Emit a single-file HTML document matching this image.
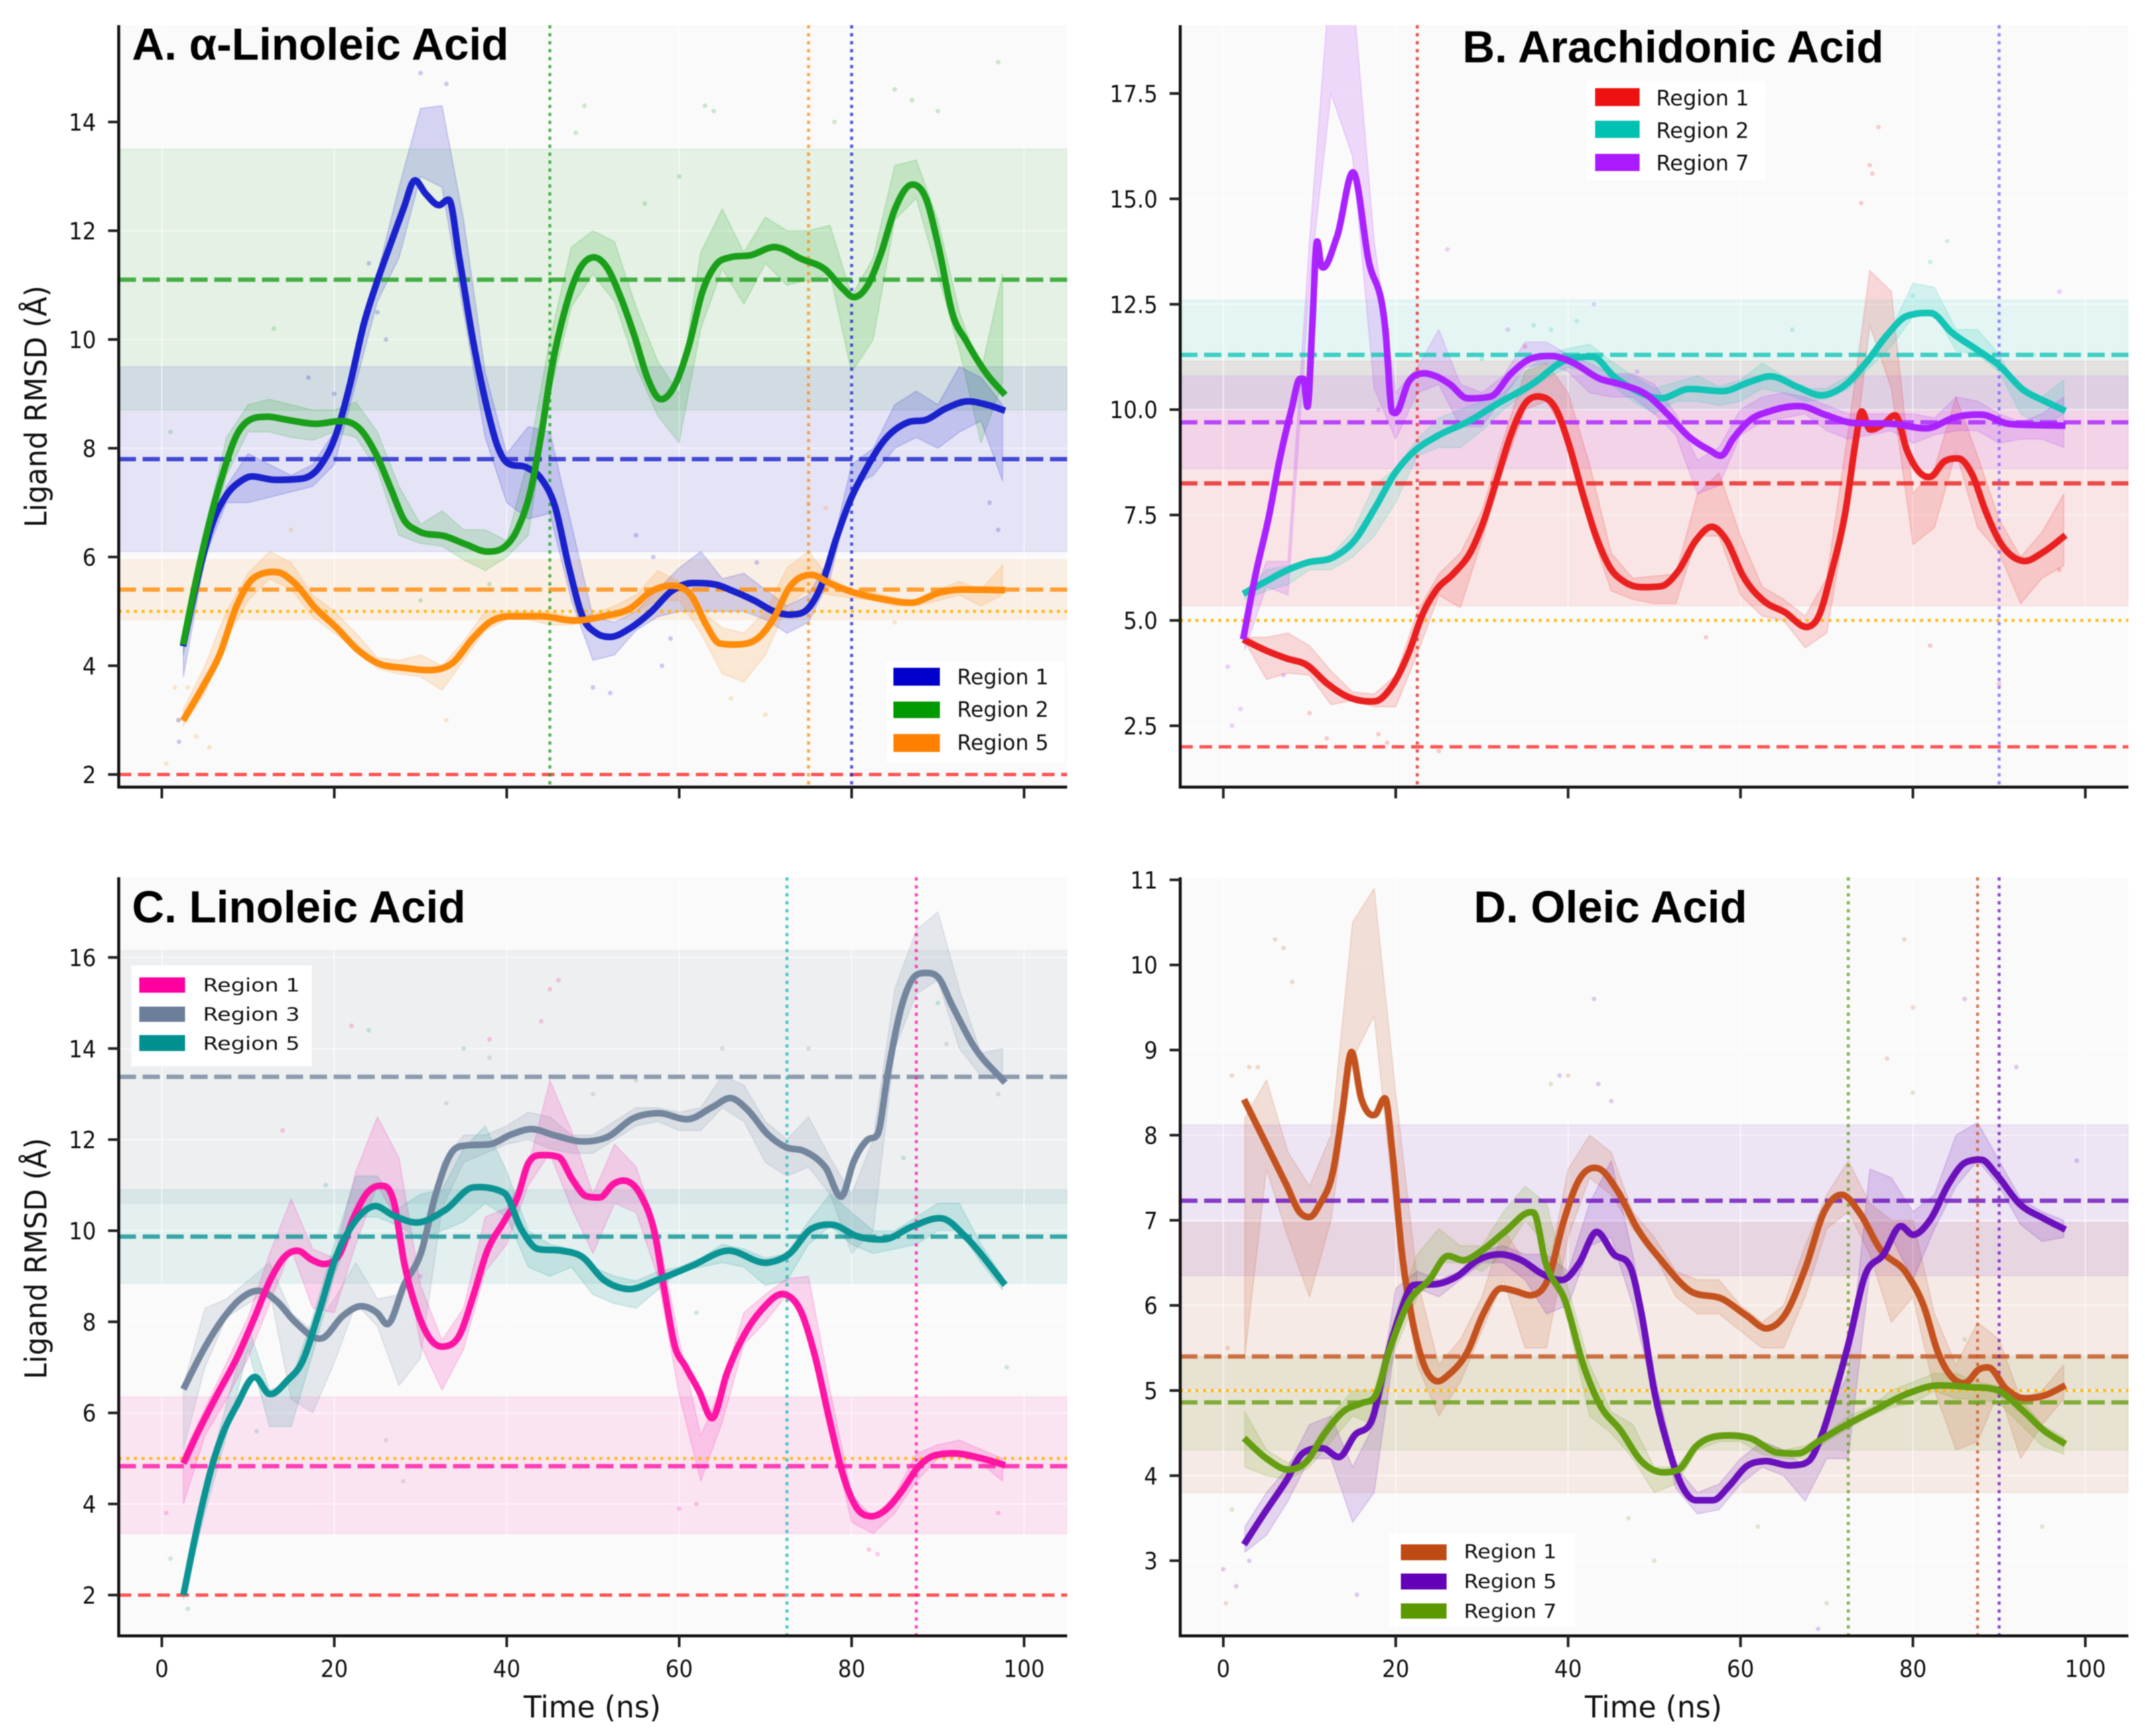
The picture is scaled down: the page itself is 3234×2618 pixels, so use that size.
<!DOCTYPE html>
<html lang="en">
<head>
<meta charset="utf-8">
<title>Ligand RMSD by region</title>
<style>
html,body{margin:0;padding:0;background:#fff;}
svg{display:block;filter:blur(0.8px);}
text{fill:#111;font-family:"DejaVu Sans","Liberation Sans",sans-serif;}
.title{font-family:"Liberation Sans",sans-serif;font-weight:700;font-size:68px;fill:#000;}
</style>
</head>
<body>
<svg id="figure" xmlns="http://www.w3.org/2000/svg" width="3234" height="2618" viewBox="0 0 3234 2618">
  <defs id="clips"></defs>
  <g id="marks-a"></g>
  <g id="marks-b"></g>
  <g id="marks-c"></g>
  <g id="marks-d"></g>

  <text class="title" x="199" y="90" textLength="568" lengthAdjust="spacingAndGlyphs">A. α-Linoleic Acid</text>
  <text class="title" x="2205" y="94" textLength="635" lengthAdjust="spacingAndGlyphs">B. Arachidonic Acid</text>
  <text class="title" x="199" y="1391" textLength="503" lengthAdjust="spacingAndGlyphs">C. Linoleic Acid</text>
  <text class="title" x="2222" y="1391" textLength="412" lengthAdjust="spacingAndGlyphs">D. Oleic Acid</text>

  <text font-size="45" text-anchor="middle" transform="translate(70,613) rotate(-90)" textLength="365" lengthAdjust="spacingAndGlyphs">Ligand RMSD (Å)</text>
  <text font-size="45" text-anchor="middle" transform="translate(70,1898) rotate(-90)" textLength="364" lengthAdjust="spacingAndGlyphs">Ligand RMSD (Å)</text>
  <text font-size="45" text-anchor="middle" x="893" y="2590" textLength="207" lengthAdjust="spacingAndGlyphs">Time (ns)</text>
  <text font-size="45" text-anchor="middle" x="2493" y="2590" textLength="207" lengthAdjust="spacingAndGlyphs">Time (ns)</text>

  <g>
    <rect x="1337" y="997" width="268" height="153" fill="#fff"/>
    <rect x="1347" y="1007" width="70" height="27" fill="#0000cc"/>
    <text x="1443" y="1032" font-size="32" textLength="138" lengthAdjust="spacingAndGlyphs">Region 1</text>
    <rect x="1347" y="1058" width="70" height="25" fill="#009900"/>
    <text x="1443" y="1081" font-size="32" textLength="138" lengthAdjust="spacingAndGlyphs">Region 2</text>
    <rect x="1347" y="1107" width="70" height="27" fill="#ff8000"/>
    <text x="1443" y="1131" font-size="32" textLength="138" lengthAdjust="spacingAndGlyphs">Region 5</text>
  </g>
  <g>
    <rect x="2392" y="122" width="270" height="149" fill="#fff"/>
    <rect x="2405" y="133" width="67" height="27" fill="#ee1111"/>
    <text x="2497" y="159" font-size="32" textLength="140" lengthAdjust="spacingAndGlyphs">Region 1</text>
    <rect x="2405" y="182" width="67" height="26" fill="#00c2b2"/>
    <text x="2497" y="208" font-size="32" textLength="140" lengthAdjust="spacingAndGlyphs">Region 2</text>
    <rect x="2405" y="232" width="67" height="26" fill="#aa1aff"/>
    <text x="2497" y="257" font-size="32" textLength="140" lengthAdjust="spacingAndGlyphs">Region 7</text>
  </g>
  <g>
    <rect x="198" y="1456" width="272" height="152" fill="#fff"/>
    <rect x="210" y="1474" width="69" height="23" fill="#ff00a0"/>
    <text x="306" y="1495" font-size="28" textLength="146" lengthAdjust="spacingAndGlyphs">Region 1</text>
    <rect x="210" y="1518" width="69" height="23" fill="#6c7f9a"/>
    <text x="306" y="1539" font-size="28" textLength="146" lengthAdjust="spacingAndGlyphs">Region 3</text>
    <rect x="210" y="1561" width="69" height="24" fill="#009090"/>
    <text x="306" y="1583" font-size="28" textLength="146" lengthAdjust="spacingAndGlyphs">Region 5</text>
  </g>
  <g>
    <rect x="2095" y="2313" width="280" height="140" fill="#fff"/>
    <rect x="2112" y="2329" width="69" height="24" fill="#c04a14"/>
    <text x="2207" y="2350" font-size="29" textLength="140" lengthAdjust="spacingAndGlyphs">Region 1</text>
    <rect x="2112" y="2373" width="69" height="24" fill="#6400b8"/>
    <text x="2207" y="2395" font-size="29" textLength="140" lengthAdjust="spacingAndGlyphs">Region 5</text>
    <rect x="2112" y="2418" width="69" height="23" fill="#5c9900"/>
    <text x="2207" y="2440" font-size="29" textLength="140" lengthAdjust="spacingAndGlyphs">Region 7</text>
  </g>
</svg>

<script>
// Shared axis data
const xTicks = [0, 20, 40, 60, 80, 100];
const bandTimes = [2.5,5,7.5,10,12.5,15,17.5,20,22.5,25,27.5,30,32.5,35,37.5,40,42.5,45,47.5,50,52.5,55,57.5,60,62.5,65,67.5,70,72.5,75,77.5,80,82.5,85,87.5,90,92.5,95,97.5];

const yTicksA = [2,4,6,8,10,12,14];
const yTicksB = [2.5,5,7.5,10,12.5,15,17.5];
const yTickLabelsB = ['2.5','5.0','7.5','10.0','12.5','15.0','17.5'];
const yTicksC = [2,4,6,8,10,12,14,16];
const yTicksD = [3,4,5,6,7,8,9,10,11];

// Panel A: alpha-linoleic acid
const aR1Time = [2.46,4.3,5.9,7.5,9.1,10.3,13,16.2,18.2,20.2,21.8,23.4,25,26.6,28.1,29.25,30.6,32.1,33.3,34.5,36.1,37.7,38.9,40,42.4,44,45.6,47.2,48.8,50.4,52,54.4,56.8,59.1,61.5,64,66.3,68.7,71,73,75,76.6,78.2,79.8,81.4,83.8,86.6,88.6,90.9,93.3,95.7,97.8];
const aR1Rmsd = [4.36,5.72,6.63,7.14,7.39,7.48,7.42,7.44,7.64,8.25,9.16,10.27,11.08,11.79,12.44,12.92,12.68,12.47,12.57,11.5,9.97,8.75,8.05,7.74,7.64,7.44,6.93,5.82,4.9,4.6,4.53,4.7,5.0,5.37,5.52,5.5,5.37,5.2,5.0,4.94,5.06,5.52,6.33,7.03,7.54,8.15,8.48,8.52,8.73,8.86,8.8,8.69];
const aR1Lo = [3.8,6.0,7.0,7.0,7.1,7.2,7.3,7.7,9.2,10.7,11.5,13.0,12.8,10.5,8.2,7.0,6.7,6.8,5.2,4.1,4.2,4.65,4.9,5.0,5.0,5.0,5.0,4.85,4.6,4.8,5.6,7.3,7.5,8.0,8.2,8.0,8.3,8.5,7.4];
const aR1Hi = [4.6,6.3,7.3,7.9,7.7,7.5,7.7,8.3,9.6,11.2,12.8,14.25,14.3,12.2,9.4,7.9,8.4,8.3,6.6,4.9,4.8,5.0,5.4,5.8,6.1,5.6,5.7,5.4,5.1,5.3,6.0,7.7,8.0,8.8,9.05,8.8,9.5,9.3,8.8];
const aR1DotT = [30,33,26,25,24,1.9,2,20,17,50,52,58,59,55,57,96,97,69];
const aR1DotV = [14.9,14.7,10,10.5,11.4,3,2.6,9,9.3,3.6,3.5,4,4.5,6.4,6,7,6.5,5.9];

const aR2Time = [2.46,3.9,5.5,7.1,8.7,10.3,12.2,14.6,17.8,21,23,25,26.6,28.1,29.7,32.9,35.3,37.7,39.7,41.3,42.8,44,45.2,46.8,48.4,50,51.6,53.2,54.8,56.4,57.7,59.5,61.1,62.7,64.3,65.9,68.3,71.1,74.2,77,79,80.2,81.8,83.4,85,87,88.6,90.1,91.7,93.3,95.7,97.8];
const aR2Rmsd = [4.39,5.52,6.63,7.54,8.25,8.53,8.58,8.52,8.45,8.5,8.35,7.84,7.24,6.68,6.48,6.38,6.23,6.1,6.18,6.53,7.24,8.25,9.46,10.57,11.28,11.51,11.33,10.78,10.07,9.26,8.91,9.16,9.87,10.88,11.38,11.51,11.55,11.7,11.48,11.28,10.93,10.78,10.98,11.58,12.39,12.85,12.6,11.69,10.47,9.97,9.36,8.98];
const aR2Lo = [4.2,5.9,7.5,8.3,8.3,8.2,8.15,8.3,8.2,7.6,6.4,6.25,6.2,5.95,5.75,6.0,6.4,9,10.6,11.2,10.7,9.5,8.6,8.1,10.2,11.3,10.65,11.4,11.0,11.1,11.2,9.4,10.0,12.2,12.6,11.2,9.8,8.1,9.2];
const aR2Hi = [4.6,6.5,8.2,8.8,8.9,8.8,8.7,8.7,8.85,8.3,7.3,6.6,6.85,6.5,6.5,6.3,7.8,10,11.7,12.0,11.8,10.6,9.6,9.0,11.6,12.4,11.6,12.25,12.0,12.0,12.1,10.8,11.5,13.2,13.3,12.2,10.5,9.4,11.2];
const aR2DotT = [48,49,63,64,87,85,90,97,78,13,1,60,38,56,30];
const aR2DotV = [13.8,14.3,14.3,14.2,14.4,14.6,14.2,15.1,14,10.2,8.3,13,5.5,12.5,5.2];

const aR5Time = [2.46,4.7,6.7,8.7,10.7,13.4,15.4,17.8,20.2,22.6,25,28.1,31.3,33.7,36.1,38.1,40.5,44,48,51.2,54.4,56.8,59.5,61.5,63.1,64.7,66.7,69.5,71.1,72.7,75.4,77.4,79.8,83.8,87,90.1,92.5,97.8];
const aR5Rmsd = [2.99,3.6,4.2,5.11,5.62,5.72,5.52,5.06,4.71,4.31,4.05,3.96,3.92,4.05,4.51,4.81,4.91,4.91,4.83,4.91,5.06,5.37,5.47,5.27,4.76,4.41,4.39,4.56,4.91,5.42,5.67,5.52,5.37,5.22,5.16,5.34,5.4,5.39];
const aR5Lo = [2.9,3.5,4.5,5.2,5.6,5.4,4.9,4.6,4.3,3.95,3.85,3.8,3.55,4.1,4.65,4.85,4.85,4.75,4.75,4.85,4.85,5.0,5.2,5.2,4.6,3.85,3.7,4.2,5.1,5.4,5.3,5.25,5.2,5.1,5.1,5.2,5.3,5.1,5.3];
const aR5Hi = [3.2,4.0,5.0,5.7,6.1,5.9,5.3,5.0,4.6,4.15,4.1,4.2,4.0,4.45,5.0,5.0,5.0,5.0,4.9,4.95,5.1,5.3,5.75,5.55,5.0,4.7,4.6,5.0,5.8,6.1,5.6,5.4,5.35,5.25,5.2,5.4,5.55,5.4,5.85];
const aR5DotT = [0.5,5.5,15,33,66,70,3,75,77,1.5,85,2,4];
const aR5DotV = [2.2,2.5,6.5,3,3.4,3.1,3.6,7,6.9,3.6,4.8,3.0,2.7];

// Panel B: arachidonic acid
const bR1Time = [2.3,4.9,7.3,9.7,12,14.4,17.6,19.6,21.5,23.1,24.7,26.7,28.7,30.2,31.8,33.4,35,36.7,38.6,40.1,41.7,43.3,44.9,46.5,48.5,50.8,52.8,54.8,56.8,58.4,60.3,62.7,65.1,67.9,69,70.6,72.2,73.4,74,75,76.6,78,79.3,82.1,83.7,85.3,86.9,88.4,90,92.8,95.2,97.7];
const bR1Rmsd = [4.55,4.29,4.1,3.94,3.51,3.19,3.08,3.45,4.23,5.14,5.72,6.11,6.63,7.35,8.39,9.43,10.14,10.31,10.01,9.17,8.0,6.96,6.24,5.92,5.79,5.81,6.18,6.89,7.22,6.89,6.05,5.46,5.2,4.85,5.07,6.18,7.61,9.3,9.95,9.53,9.66,9.86,9.04,8.41,8.78,8.84,8.45,7.61,6.89,6.41,6.63,7.02];
const bR1Lo = [4.5,3.6,3.75,3.7,3.0,3.1,2.95,2.95,4.2,5.6,5.3,6.9,8.6,10.0,10.2,9.3,7.2,5.7,5.5,5.4,5.4,7.0,7.0,5.6,5.1,5.0,4.35,4.7,7.7,12.0,10.5,6.8,7.2,9,7.2,6.6,5.4,6.0,6.3];
const bR1Hi = [4.6,4.6,4.7,4.4,3.8,3.3,3.25,3.7,5.2,6.1,6.6,7.6,9.3,10.9,11.1,10.4,8.7,6.6,6.0,6.05,6.1,8.0,8.5,7.0,5.8,5.5,5.1,6.0,9.5,13.3,12.8,8.0,8.6,10.3,8.9,7.4,6.5,7.1,8.0];
const bR1DotT = [76,75,75.3,74,35,25,10,12,18,19,56,82,90,97];
const bR1DotV = [16.7,15.8,15.6,14.9,11.5,1.9,2.8,2.2,2.3,2.1,4.6,4.4,3.5,6.2];

const bR2Time = [2.3,4.9,7.3,9.7,12.8,15.2,17.6,20,22.3,24.7,28.7,31.8,35.8,39.8,42.9,45.3,47.7,50.8,54,58,61.1,63.5,66.7,69.4,71.8,74.6,77,79.3,82.1,84.5,87.3,90,92.8,95.2,97.7];
const bR2Rmsd = [5.63,5.92,6.18,6.37,6.5,6.89,7.67,8.52,9.04,9.36,9.75,10.14,10.6,11.18,11.25,10.79,10.47,10.27,10.49,10.44,10.66,10.79,10.53,10.34,10.53,11.12,11.77,12.22,12.29,11.83,11.44,11.05,10.47,10.21,9.97];
const bR2Lo = [5.5,5.7,5.85,6.2,6.2,6.5,7.0,7.8,8.9,9.1,9.1,9.5,10,10.4,10.75,11.0,10.9,10.6,10.2,9.9,10.2,10.2,10.1,10.2,10.5,10.4,10.2,10.25,10.5,11,11.5,12.2,12.3,11.4,11.3,10.9,9.9,9.6,9.9];
const bR2Hi = [5.7,6.2,6.3,6.45,6.55,7.1,8.2,8.6,9.3,9.8,10,10.2,10.4,10.9,11.3,11.45,11.55,11.15,10.8,10.5,10.65,10.8,10.55,10.7,11.1,10.8,10.5,10.5,10.8,11.3,11.9,13.0,12.9,11.9,11.9,11.3,10.4,10.3,10.7];
const bR2DotT = [82,80,84,38,41,36,30,66,94];
const bR2DotV = [13.5,12.7,14,11.9,12.1,12,11.2,11.9,11.3];

const bR7Time = [2.3,3.7,5.3,6.5,7.9,8.9,9.3,9.8,10.3,10.85,11.4,13.2,15.2,16.8,18.8,19.6,20,21.5,23.1,24.7,26.3,28.3,31,33.4,35.8,38.2,40.5,43.7,46.1,49.2,51.6,54,56.4,57.8,59.1,61.1,63.5,67.1,69.8,72.9,77.8,81.7,84.9,88,91.2,97.7];
const bR7Rmsd = [4.55,6.05,7.48,8.78,10.0,10.73,10.73,10.08,11.9,13.98,13.39,14.11,15.6,13.59,11.9,9.95,9.92,10.66,10.86,10.79,10.6,10.27,10.31,10.86,11.22,11.27,11.12,10.73,10.6,10.34,9.88,9.36,9.04,8.91,9.3,9.75,9.97,10.08,9.88,9.69,9.66,9.56,9.82,9.88,9.66,9.62];
const bR7Lo = [4.3,5.8,5.6,13,17.5,16,10.5,9.3,10.4,10.6,9.6,9.6,10.3,11.0,11.1,10.9,10.4,10.3,10.3,9.9,9.4,8.0,8.2,9.4,9.7,9.8,9.9,9.5,9.3,9.4,9.5,9.2,9.4,9.5,9.5,9.2,9.3,9.3,9.1];
const bR7Hi = [5.0,6.4,6.4,14,20.5,20,14,10.4,11.0,11.9,10.6,10.4,10.8,11.6,11.6,11.3,11.1,10.85,10.85,10.6,9.9,8.8,9.1,10,10.3,10.4,10.3,10.1,9.9,9.9,9.9,9.9,9.8,10.3,10.2,9.9,9.7,9.9,10.3];
const bR7DotT = [2,1,26,43,97,18,0.5,7,33,48];
const bR7DotV = [2.9,2.5,13.8,12.5,12.8,10,3.9,3.7,11.9,10.9];

// Panel C: linoleic acid
const cR1Time = [2.5,4.3,6.3,8.7,10.7,12.6,14.2,15.8,17.4,19,20.6,22.2,23.8,25.8,26.9,28.1,29.7,31.3,32.9,34.5,36.1,37.7,39.7,41.3,42.4,44,46,47.6,49.2,50.8,52.4,53.7,55.6,57.2,58.3,59.5,60.7,62.3,63.9,65.5,67.5,69.5,72.3,74.2,75.8,77.4,79,80.6,82.2,83.8,85.8,87.8,89.7,92.1,94.9,97.8];
const cR1Rmsd = [4.89,5.62,6.36,7.21,8.07,8.93,9.42,9.56,9.36,9.27,9.48,10.27,10.83,10.98,10.64,9.3,8.19,7.58,7.46,7.7,8.56,9.54,10.21,10.76,11.44,11.66,11.62,11.13,10.76,10.73,11.03,11.1,10.76,9.91,8.68,7.46,7.03,6.48,5.89,6.85,7.7,8.25,8.6,8.19,7.21,5.87,4.64,3.91,3.73,3.85,4.28,4.83,5.07,5.11,5.01,4.85];
const cR1Lo = [4.0,5.5,6.3,7.2,8.4,9.6,8.3,8.2,9.7,11,10.15,7.5,6.5,7.4,9.1,9.7,11,11.7,10.5,9.5,10.6,10.4,9.0,6.4,4.5,5.8,7.5,8.0,8.6,7.9,5.6,3.6,3.35,3.8,4.5,5.0,5.05,4.9,4.5];
const cR1Hi = [5.1,6.1,7.1,8.1,9.5,10.7,9.6,9.4,11.3,12.5,11.6,8.8,7.6,8.3,10.3,10.5,11.4,13.3,12.2,10.8,11.9,11.4,10.0,7.6,5.5,6.6,8.2,8.6,8.95,9.0,6.5,4.2,3.7,4.2,5.1,5.3,5.4,5.2,5.0];
const cR1DotT = [45,46,44,22,38,60,62,82,83,0.5,97,30,14];
const cR1DotV = [15.3,15.5,14.6,14.5,14.2,3.9,4,3,2.9,3.8,3.8,9,12.2];

const cR3Time = [2.5,4.7,7.1,9.1,11.4,13.4,15.4,18.6,21,23,25,26.2,28.1,30.1,31.7,33.7,35.3,38.1,40.5,42.8,45.6,48.8,51.6,54.8,57.6,61.1,63.9,66.1,67.9,70.3,72.3,74.6,77,78.9,80.2,81.8,83,84.2,85.8,87.4,88.6,90,91.7,94.1,97.8];
const cR3Rmsd = [6.52,7.34,8.07,8.5,8.68,8.44,8.01,7.64,8.13,8.34,8.19,7.95,8.81,9.54,10.76,11.74,11.87,11.9,12.11,12.23,12.09,11.96,12.05,12.48,12.58,12.45,12.72,12.91,12.66,12.11,11.84,11.74,11.38,10.76,11.5,11.99,12.11,13.46,14.93,15.6,15.66,15.57,14.93,14.07,13.25];
const cR3Lo = [5.2,7.0,8.1,8.4,8.7,6.3,6.0,7.1,8.4,7.9,6.6,7.2,10.5,11.5,11.7,11.9,12,11.8,11.7,11.7,12.0,12.3,12.4,12.2,12.2,12.7,12.4,11.5,11.2,11.4,10.8,9.5,10.0,14,15.2,15.5,14,13.4,13.3];
const cR3Hi = [6.6,8.3,8.5,8.9,9.3,8.2,7.8,8.5,9.3,8.5,8.6,9.6,11.5,12.1,12.1,12.3,12.6,12.5,12.1,12.1,12.4,12.7,12.7,12.6,12.7,13.4,13.2,12.4,12,12.5,11.6,10.8,12,15.3,16.6,17,15.3,13.9,14.0];
const cR3DotT = [91,97,28,75,65,33,50,55,38,26];
const cR3DotV = [14.1,13,4.5,14,14,12.8,13,13.3,13.8,5.4];

const cR5Time = [2.5,4.3,5.9,7.1,8.7,10.8,12.4,14.6,16.2,18.2,20.2,22.2,24.6,26.9,29.7,32.9,36.1,39.7,41.7,43.6,46.4,48.8,51.2,54,57.6,61.5,65.5,70.3,72.7,75.4,77.8,80.6,83.8,87,90.5,93.3,97.8];
const cR5Rmsd = [2.0,3.66,4.89,5.56,6.17,6.79,6.42,6.72,7.09,8.19,9.42,10.15,10.54,10.33,10.18,10.46,10.95,10.83,10.03,9.6,9.56,9.42,8.93,8.72,8.93,9.23,9.56,9.3,9.48,10.05,10.13,9.88,9.81,10.09,10.27,9.85,8.81];
const cR5Lo = [1.9,3.8,5.5,7.4,5.7,5.7,7.3,9,10.3,10.3,10.1,9.8,10.0,10.2,10.6,10.3,9.2,9.0,9.2,8.6,8.4,8.3,8.7,9.1,9.2,9.3,9.2,8.8,8.9,9.7,10.1,9.7,9.5,9.6,9.7,10,10.0,9.3,8.7];
const cR5Hi = [2.1,4.4,6.2,7.9,6.5,6.7,8.1,9.7,11.2,11.2,10.5,10.8,10.9,11.8,12.3,11.3,10.0,9.7,9.6,9.2,9.0,8.9,9.1,9.2,9.4,9.7,9.6,9.4,9.5,10.2,10.8,10.4,10,10,10.3,10.6,10.6,9.7,9.0];
const cR5DotT = [24,35,3,1,90,98,11,19,62,86];
const cR5DotV = [14.4,14,1.7,2.8,15,7,5.6,11,8.2,11.6];

// Panel D: oleic acid
const dR1Time = [2.4,4.9,7.3,8.9,10.1,11.2,12.8,13.8,14.8,16,17.6,18.8,19.6,20.7,21.9,23.1,24.7,26.3,28.3,30.2,32.2,33.8,35.8,37.8,39.4,41.3,43.5,45.7,48.1,50.8,54,58,60.7,63.1,65.1,67.5,69.8,71.8,73.8,76.2,79.3,81.3,82.9,84.5,86.1,87.7,88.8,90.8,92.8,95.2,97.7];
const dR1Rmsd = [8.42,7.91,7.42,7.09,7.04,7.19,7.61,8.27,8.97,8.43,8.24,8.43,7.81,6.63,5.84,5.35,5.11,5.2,5.45,5.91,6.2,6.17,6.12,6.34,6.96,7.48,7.61,7.35,6.89,6.53,6.18,6.07,5.88,5.73,5.88,6.43,7.12,7.3,7.09,6.66,6.37,5.98,5.45,5.16,5.09,5.25,5.27,5.02,4.91,4.94,5.06];
const dR1Lo = [5.4,7.6,6.8,6.1,7.0,8.9,9.4,7.0,5.3,4.7,5.1,5.7,6.3,5.5,5.5,6.8,7.5,7.3,6.9,6.6,6.1,5.9,5.9,5.7,5.5,5.5,6.1,6.9,7.1,6.6,5.8,6.1,5.0,4.3,4.4,5.0,4.2,4.6,4.9];
const dR1Hi = [8.2,8.65,7.8,7.4,8.0,10.5,10.9,8.5,6.3,5.3,5.6,6.1,6.9,6.5,6.3,7.6,8.0,7.8,7.1,6.8,6.4,6.3,6.3,6.0,5.8,6.0,6.7,7.3,7.7,7.2,7.0,7.0,5.9,5.3,5.8,5.6,4.9,5.0,5.3];
const dR1DotT = [6,7,8,4,40,79,80,1,0.5,77,0.3,3];
const dR1DotV = [10.3,10.2,9.8,8.8,8.7,10.3,9.5,8.7,5.5,8.9,2.5,8.8];

const dR5Time = [2.4,4.9,7.3,9.3,11.6,13.5,15.2,17.4,18.8,20.3,22.1,24.7,27.1,29.5,32.2,34.6,37,39.4,41.3,43.2,45.3,47.3,48.5,50,51.6,53.2,54.8,56.8,58.7,60.7,62.7,65.9,67.9,69.4,71,72.6,74.4,76.6,78.5,80,82.1,84.1,86.1,88,89.6,92.4,95.2,97.7];
const dR5Rmsd = [3.19,3.58,3.94,4.27,4.32,4.22,4.47,4.7,5.32,5.84,6.24,6.25,6.34,6.53,6.6,6.53,6.37,6.3,6.5,6.86,6.6,6.43,5.91,4.99,4.34,3.88,3.71,3.71,3.88,4.11,4.17,4.12,4.17,4.47,4.99,5.58,6.34,6.6,6.93,6.83,7.02,7.42,7.68,7.71,7.55,7.19,7.02,6.89];
const dR5Lo = [3.1,3.3,3.7,4.2,4.2,3.45,3.8,5.6,6.2,6.1,6.3,6.5,6.5,6.3,5.9,6.0,6.7,6.8,6.0,4.9,3.85,3.55,3.6,3.9,4.1,4.0,3.7,4.2,4.2,6.4,6.8,6.3,6.9,7.4,7.7,7.4,6.95,6.75,6.8];
const dR5Hi = [3.4,3.8,4.1,4.6,4.7,4.1,4.6,6.2,6.4,6.3,6.4,6.65,6.7,6.6,6.6,6.4,7.2,7.7,6.6,5.2,4.1,3.8,3.9,4.2,4.4,4.3,4.1,4.7,5.2,7.6,7.5,7.1,7.3,8.0,8.15,7.7,7.25,7.1,7.0];
const dR5DotT = [43,43.5,45,86,0,1.5,3,15.5,69,92,99,39];
const dR5DotV = [9.6,8.6,8.4,9.6,2.9,2.7,3,2.6,2.2,8.8,7.7,8.7];

const dR7Time = [2.4,4.9,7.7,9.7,11.6,14,16,17.6,19.2,21.5,23.9,26,27.9,30.2,32.6,36,37.4,39.7,41.7,43.7,46.1,48.5,50.8,52.8,54.8,58,61.1,64.3,66.7,69,71.8,75.4,79.3,82.9,86.5,89.6,92.8,95.2,97.7];
const dR7Rmsd = [4.44,4.21,4.07,4.17,4.47,4.76,4.85,4.93,5.45,6.04,6.3,6.58,6.53,6.66,6.86,7.09,6.5,6.04,5.32,4.83,4.53,4.17,4.04,4.07,4.34,4.47,4.44,4.27,4.26,4.4,4.57,4.76,4.96,5.06,5.04,5.01,4.76,4.53,4.37];
const dR7Lo = [4.1,4.0,3.95,4.1,4.4,4.7,4.6,5.5,6.1,6.5,6.5,6.4,6.6,7.0,6.7,5.8,4.7,4.5,4.2,3.8,3.9,4.3,4.4,4.4,4.25,4.2,4.2,4.4,4.55,4.7,4.8,4.85,5.0,4.9,4.9,4.85,4.6,4.35,4.25];
const dR7Hi = [4.75,4.3,4.15,4.3,4.7,5.0,5.0,5.9,6.6,6.9,6.7,6.7,7.1,7.4,7.2,6.2,5.3,4.75,4.6,4.1,4.1,4.4,4.5,4.5,4.4,4.3,4.35,4.5,4.7,4.8,5.0,5.1,5.2,5.2,5.1,5.05,4.9,4.6,4.45];
const dR7DotT = [38,50,62,70,95,80,1,47,86];
const dR7DotV = [8.6,3,3.4,2.5,3.4,8.5,3.6,3.5,5.6];

// Horizontal reference values
const referenceLow = 2;
const referenceMid = 5;

const panels = [
  {id:'a', hostId:'marks-a', left:179, right:1609, top:38, bottom:1187, xMin:-5, xMax:105, yMin:1.768, yMax:15.78,
   yTicks:yTicksA, yLabels:yTicksA.map(String), xLabels:false, showLow:true,
   series:[
    {key:'region-2', color:'#009900', line:'#1a9f1a', t:aR2Time, v:aR2Rmsd, lo:aR2Lo, hi:aR2Hi, dotT:aR2DotT, dotV:aR2DotV, mean:11.1, bandLo:8.7, bandHi:13.5, conv:45},
    {key:'region-1', color:'#0000cc', line:'#1a22cc', t:aR1Time, v:aR1Rmsd, lo:aR1Lo, hi:aR1Hi, dotT:aR1DotT, dotV:aR1DotV, mean:7.8, bandLo:6.1, bandHi:9.5, conv:80},
    {key:'region-5', color:'#ff8000', line:'#ff8c0a', t:aR5Time, v:aR5Rmsd, lo:aR5Lo, hi:aR5Hi, dotT:aR5DotT, dotV:aR5DotV, mean:5.4, bandLo:4.85, bandHi:5.95, conv:75}
   ], order:['region-1','region-2','region-5']},
  {id:'b', hostId:'marks-b', left:1779.4, right:3209, top:38, bottom:1187, xMin:-5, xMax:105, yMin:1.045, yMax:19.12,
   yTicks:yTicksB, yLabels:yTickLabelsB, xLabels:false, showLow:true,
   series:[
    {key:'region-1', color:'#ee1111', line:'#ea2020', t:bR1Time, v:bR1Rmsd, lo:bR1Lo, hi:bR1Hi, dotT:bR1DotT, dotV:bR1DotV, mean:8.25, bandLo:5.35, bandHi:11.15, conv:22.5},
    {key:'region-2', color:'#00c2b2', line:'#14c4b6', t:bR2Time, v:bR2Rmsd, lo:bR2Lo, hi:bR2Hi, dotT:bR2DotT, dotV:bR2DotV, mean:11.3, bandLo:10.0, bandHi:12.6, conv:null},
    {key:'region-7', color:'#aa1aff', line:'#aa22ff', t:bR7Time, v:bR7Rmsd, lo:bR7Lo, hi:bR7Hi, dotT:bR7DotT, dotV:bR7DotV, mean:9.7, bandLo:8.6, bandHi:10.8, conv:90, convColor:'#7a5cff'}
   ]},
  {id:'c', hostId:'marks-c', left:179, right:1609, top:1323, bottom:2467, xMin:-5, xMax:105, yMin:1.104, yMax:17.76,
   yTicks:yTicksC, yLabels:yTicksC.map(String), xLabels:true, showLow:true,
   series:[
    {key:'region-3', color:'#6c7f9a', line:'#74869e', t:cR3Time, v:cR3Rmsd, lo:cR3Lo, hi:cR3Hi, dotT:cR3DotT, dotV:cR3DotV, mean:13.38, bandLo:10.6, bandHi:16.15, conv:null},
    {key:'region-1', color:'#ff00a0', line:'#ff14a4', t:cR1Time, v:cR1Rmsd, lo:cR1Lo, hi:cR1Hi, dotT:cR1DotT, dotV:cR1DotV, mean:4.83, bandLo:3.35, bandHi:6.35, conv:87.5},
    {key:'region-5', color:'#009090', line:'#0c9494', t:cR5Time, v:cR5Rmsd, lo:cR5Lo, hi:cR5Hi, dotT:cR5DotT, dotV:cR5DotV, mean:9.87, bandLo:8.85, bandHi:10.9, conv:72.5, convColor:'#1ab8b8'}
   ]},
  {id:'d', hostId:'marks-d', left:1779.4, right:3209, top:1323, bottom:2467, xMin:-5, xMax:105, yMin:2.117, yMax:11.03,
   yTicks:yTicksD, yLabels:yTicksD.map(String), xLabels:true, showLow:false,
   series:[
    {key:'region-1', color:'#c04a14', line:'#c4521e', t:dR1Time, v:dR1Rmsd, lo:dR1Lo, hi:dR1Hi, dotT:dR1DotT, dotV:dR1DotV, mean:5.4, bandLo:3.8, bandHi:6.97, conv:87.5},
    {key:'region-5', color:'#6400b8', line:'#6a10bc', t:dR5Time, v:dR5Rmsd, lo:dR5Lo, hi:dR5Hi, dotT:dR5DotT, dotV:dR5DotV, mean:7.23, bandLo:6.35, bandHi:8.12, conv:90},
    {key:'region-7', color:'#5c9900', line:'#669e12', t:dR7Time, v:dR7Rmsd, lo:dR7Lo, hi:dR7Hi, dotT:dR7DotT, dotV:dR7DotV, mean:4.86, bandLo:4.3, bandHi:5.4, conv:72.5}
   ]}
];

const NS = 'http://www.w3.org/2000/svg';

function make(parent, tag, attrs) {
  const el = document.createElementNS(NS, tag);
  for (const k in attrs) el.setAttribute(k, attrs[k]);
  parent.appendChild(el);
  return el;
}

function xScale(p, t) {
  return p.left + (t - p.xMin) / (p.xMax - p.xMin) * (p.right - p.left);
}

function yScale(p, v) {
  return p.bottom - (v - p.yMin) / (p.yMax - p.yMin) * (p.bottom - p.top);
}

// Hermite spline with three-point tangents, limited to avoid overshoot
function smoothPath(xs, ys) {
  const n = xs.length;
  const h = [];
  const s = [];
  for (let i = 0; i < n - 1; i++) {
    h.push(xs[i + 1] - xs[i]);
    s.push((ys[i + 1] - ys[i]) / h[i]);
  }
  const m = [s[0]];
  for (let i = 1; i < n - 1; i++) {
    let tan = (h[i - 1] * s[i] + h[i] * s[i - 1]) / (h[i - 1] + h[i]);
    const small = Math.min(Math.abs(s[i - 1]), Math.abs(s[i]));
    const limit = s[i - 1] * s[i] > 0 ? 3 * small : 0.5 * small;
    if (Math.abs(tan) > limit) tan = Math.sign(tan) * limit;
    m.push(tan);
  }
  m.push(s[n - 2]);
  let d = 'M' + xs[0].toFixed(1) + ' ' + ys[0].toFixed(1);
  for (let i = 0; i < n - 1; i++) {
    const k = h[i] / 3;
    d += 'C' + (xs[i] + k).toFixed(1) + ' ' + (ys[i] + m[i] * k).toFixed(1) + ' ' +
         (xs[i + 1] - k).toFixed(1) + ' ' + (ys[i + 1] - m[i + 1] * k).toFixed(1) + ' ' +
         xs[i + 1].toFixed(1) + ' ' + ys[i + 1].toFixed(1);
  }
  return d;
}

function bandPath(p, lo, hi) {
  const upper = bandTimes.map((t, i) => xScale(p, t).toFixed(1) + ' ' + yScale(p, hi[i]).toFixed(1));
  const lower = bandTimes.map((t, i) => xScale(p, t).toFixed(1) + ' ' + yScale(p, lo[i]).toFixed(1)).reverse();
  return 'M' + upper.join('L') + 'L' + lower.join('L') + 'Z';
}

// Tick labels sit condensed in the figure: glyph height of a larger font, width of a smaller one
function tickLabelWidth(label) {
  let width = 0;
  for (const ch of label) width += ch === '.' ? 10.3 : 20.7;
  return width;
}

function drawPanel(p) {
  const host = document.getElementById(p.hostId);
  const clipId = 'clip-' + p.id;
  const clip = make(document.getElementById('clips'), 'clipPath', {id: clipId});
  make(clip, 'rect', {x: p.left, y: p.top, width: p.right - p.left, height: p.bottom - p.top});

  const bg = make(host, 'rect', {x: p.left, y: p.top, width: p.right - p.left, height: p.bottom - p.top, fill: '#fafafa'});
  
  

  const inner = make(host, 'g', {'clip-path': 'url(#' + clipId + ')'});
  
  

  // Range bands across the axes
  p.series.forEach(s => {
    const yTop = yScale(p, s.bandHi);
    const yBot = yScale(p, s.bandLo);
    const rect = make(inner, 'rect', {x: p.left, y: yTop, width: p.right - p.left, height: yBot - yTop, fill: s.color, 'fill-opacity': 0.085, stroke: s.color, 'stroke-opacity': 0.07, 'stroke-width': 2});
    
    
  });

  // Grid
  xTicks.forEach(t => {
    const g = make(inner, 'line', {x1: xScale(p, t), x2: xScale(p, t), y1: p.top, y2: p.bottom, stroke: '#fff', 'stroke-opacity': 0.55, 'stroke-width': 2});
    
    
  });
  p.yTicks.forEach(v => {
    const g = make(inner, 'line', {x1: p.left, x2: p.right, y1: yScale(p, v), y2: yScale(p, v), stroke: '#fff', 'stroke-opacity': 0.55, 'stroke-width': 2});
    
    
  });

  // Raw scatter points
  p.series.forEach(s => {
    s.dotT.forEach((t, i) => {
      const dot = make(inner, 'circle', {cx: xScale(p, t), cy: yScale(p, s.dotV[i]), r: 3.5, fill: s.color, 'fill-opacity': 0.2});
      
      
    });
  });

  // Variation ribbons
  p.series.forEach(s => {
    const ribbon = make(inner, 'path', {d: bandPath(p, s.lo, s.hi), fill: s.color, 'fill-opacity': 0.15, stroke: s.color, 'stroke-opacity': 0.14, 'stroke-width': 2, 'stroke-linejoin': 'round'});
    
    
  });

  // Reference lines
  if (p.showLow) {
    const low = make(inner, 'line', {x1: p.left, x2: p.right, y1: yScale(p, referenceLow), y2: yScale(p, referenceLow), stroke: '#ff5555', 'stroke-width': 5, 'stroke-dasharray': '19 10'});
    
    
  }
  const mid = make(inner, 'line', {x1: p.left, x2: p.right, y1: yScale(p, referenceMid), y2: yScale(p, referenceMid), stroke: '#ffb400', 'stroke-opacity': 0.9, 'stroke-width': 4.5, 'stroke-dasharray': '4.5 7'});
  
  

  p.series.forEach(s => {
    const dash = make(inner, 'line', {x1: p.left, x2: p.right, y1: yScale(p, s.mean), y2: yScale(p, s.mean), stroke: s.line, 'stroke-opacity': 0.8, 'stroke-width': 6.5, 'stroke-dasharray': '26 10'});
    
    
    if (s.conv !== null) {
      const conv = make(inner, 'line', {x1: xScale(p, s.conv), x2: xScale(p, s.conv), y1: p.top, y2: p.bottom, stroke: s.convColor || s.line, 'stroke-opacity': 0.75, 'stroke-width': 4.5, 'stroke-dasharray': '5 7'});
      
      
    }
  });

  // Smoothed series lines
  const lineOrder = p.order || p.series.map(s => s.key);
  lineOrder.forEach(key => {
    const s = p.series.find(q => q.key === key);
    const path = make(inner, 'path', {d: smoothPath(s.t.map(t => xScale(p, t)), s.v.map(v => yScale(p, v))), fill: 'none', stroke: s.line, 'stroke-width': 10, 'stroke-linejoin': 'round', 'stroke-linecap': 'butt'});
    
    
  });

  // Spines
  const spineL = make(host, 'line', {x1: p.left, x2: p.left, y1: p.top, y2: p.bottom + 2, stroke: '#111', 'stroke-width': 4.5});
  
  
  const spineB = make(host, 'line', {x1: p.left - 2, x2: p.right, y1: p.bottom, y2: p.bottom, stroke: '#111', 'stroke-width': 4.5});
  
  

  // Ticks
  xTicks.forEach(t => {
    const x = xScale(p, t);
    const tick = make(host, 'line', {x1: x, x2: x, y1: p.bottom, y2: p.bottom + 17, stroke: '#222', 'stroke-width': 4});
    
    
    if (p.xLabels) {
      const text = String(t);
      const label = make(host, 'text', {x: x, y: p.bottom + 62, 'font-size': 36, 'text-anchor': 'middle', textLength: tickLabelWidth(text), lengthAdjust: 'spacingAndGlyphs'});
      label.textContent = text;
      
      
    }
  });
  p.yTicks.forEach((v, i) => {
    const y = yScale(p, v);
    const tick = make(host, 'line', {x1: p.left - 16, x2: p.left, y1: y, y2: y, stroke: '#222', 'stroke-width': 4});
    
    
    const label = make(host, 'text', {x: p.left - 34, y: y + 13, 'font-size': 36, 'text-anchor': 'end', textLength: tickLabelWidth(p.yLabels[i]), lengthAdjust: 'spacingAndGlyphs'});
    label.textContent = p.yLabels[i];
    
    
  });
}

panels.forEach(drawPanel);
</script>
</body>
</html>
